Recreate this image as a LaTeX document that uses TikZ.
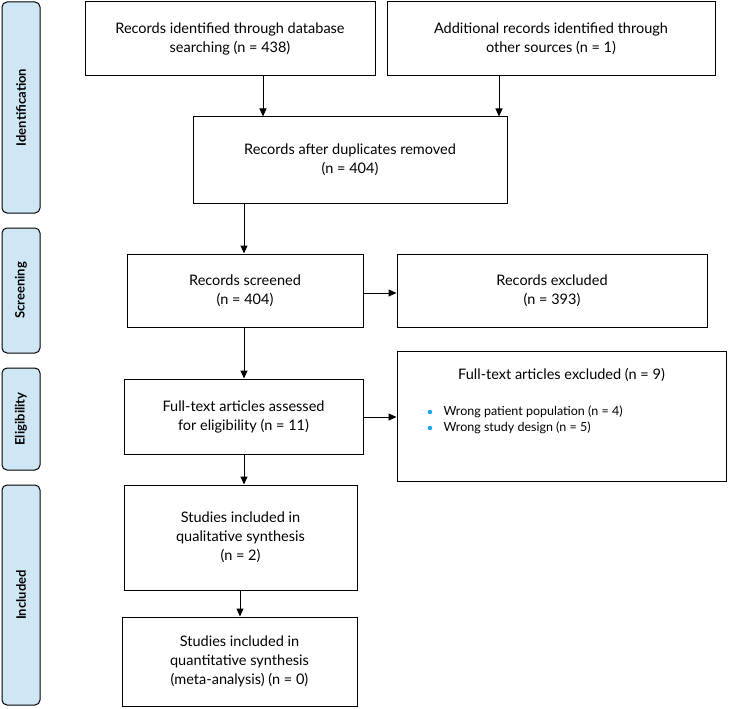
\documentclass[tikz,border=0pt]{standalone}
\usepackage{fontspec}
\setmainfont{Lato}
\usetikzlibrary{arrows.meta}
\definecolor{side}{HTML}{CFE6F5}
\definecolor{bul}{HTML}{1AA3E8}
\begin{document}
\begin{tikzpicture}[x=1pt,y=-1pt,
 box/.style={draw,line width=1pt,align=center,font=\fontsize{14.5}{19}\selectfont},
 lab/.style={draw,line width=1pt,fill=side,rounded corners=5pt,minimum width=38pt},
 arr/.style={-{Triangle[length=8pt,width=7pt]},line width=1pt}]
\useasboundingbox (0,0) rectangle (729,709);
\newcommand{\bx}[6]{\node[box,minimum width=#4-#2,minimum height=#5-#3] (#1) at ({(#2+#4)/2},{(#3+#5)/2}) {#6};}
\newcommand{\sd}[4]{\node[lab,minimum height=#3-#2] (#1) at (21,{(#2+#3)/2}) {}; \node[rotate=90,font=\fontsize{13}{15}\selectfont\bfseries] at (21,{(#2+#3)/2}) {#4};}
\sd{s1}{2}{213}{Identification}
\sd{s2}{228}{353}{Screening}
\sd{s3}{368}{470}{Eligibility}
\sd{s4}{485}{705}{Included}
\bx{b1}{85}{2}{375}{76}{Records identified through database\\searching (n = 438)}
\bx{b2}{387}{2}{715}{76}{Additional records identified through\\other sources (n = 1)}
\bx{b3}{193}{117}{507}{203}{Records after duplicates removed\\(n = 404)}
\bx{b4}{127}{254}{363}{327}{Records screened\\(n = 404)}
\bx{b5}{397}{254}{707}{327}{Records excluded\\(n = 393)}
\bx{b6}{124}{379}{363}{454}{Full-text articles assessed\\for eligibility (n = 11)}
\node[box,minimum width=329,minimum height=130] (b7) at (561.5,416) {};
\node[font=\fontsize{14.5}{19}\selectfont] at (561.5,375) {Full-text articles excluded (n = 9)};
\node[font=\fontsize{12.5}{15}\selectfont,anchor=west] (l1) at (440,412) {Wrong patient population (n = 4)};
\node[font=\fontsize{12.5}{15}\selectfont,anchor=west] (l2) at (440,428) {Wrong study design (n = 5)};
\fill[bul] (430,412) circle (2.2pt) (430,428) circle (2.2pt);
\bx{b8}{124}{485}{357}{590}{Studies included in\\qualitative synthesis\\(n = 2)}
\bx{b9}{122}{617}{357}{706}{Studies included in\\quantitative synthesis\\(meta-analysis) (n = 0)}
\draw[arr] (b1.south -| 263,0) -- (b3.north -| 263,0);
\draw[arr] (b2.south -| 499,0) -- (b3.north -| 499,0);
\draw[arr] (b3.south -| 244,0) -- (b4.north -| 244,0);
\draw[arr] (b4.south -| 244,0) -- (b6.north -| 244,0);
\draw[arr] (b6.south -| 244,0) -- (b8.north -| 244,0);
\draw[arr] (b8.south -| 240,0) -- (b9.north -| 240,0);
\draw[arr] (b4.east |- 0,293) -- (b5.west |- 0,293);
\draw[arr] (b6.east |- 0,417) -- (b7.west |- 0,417);
\end{tikzpicture}
\end{document}
